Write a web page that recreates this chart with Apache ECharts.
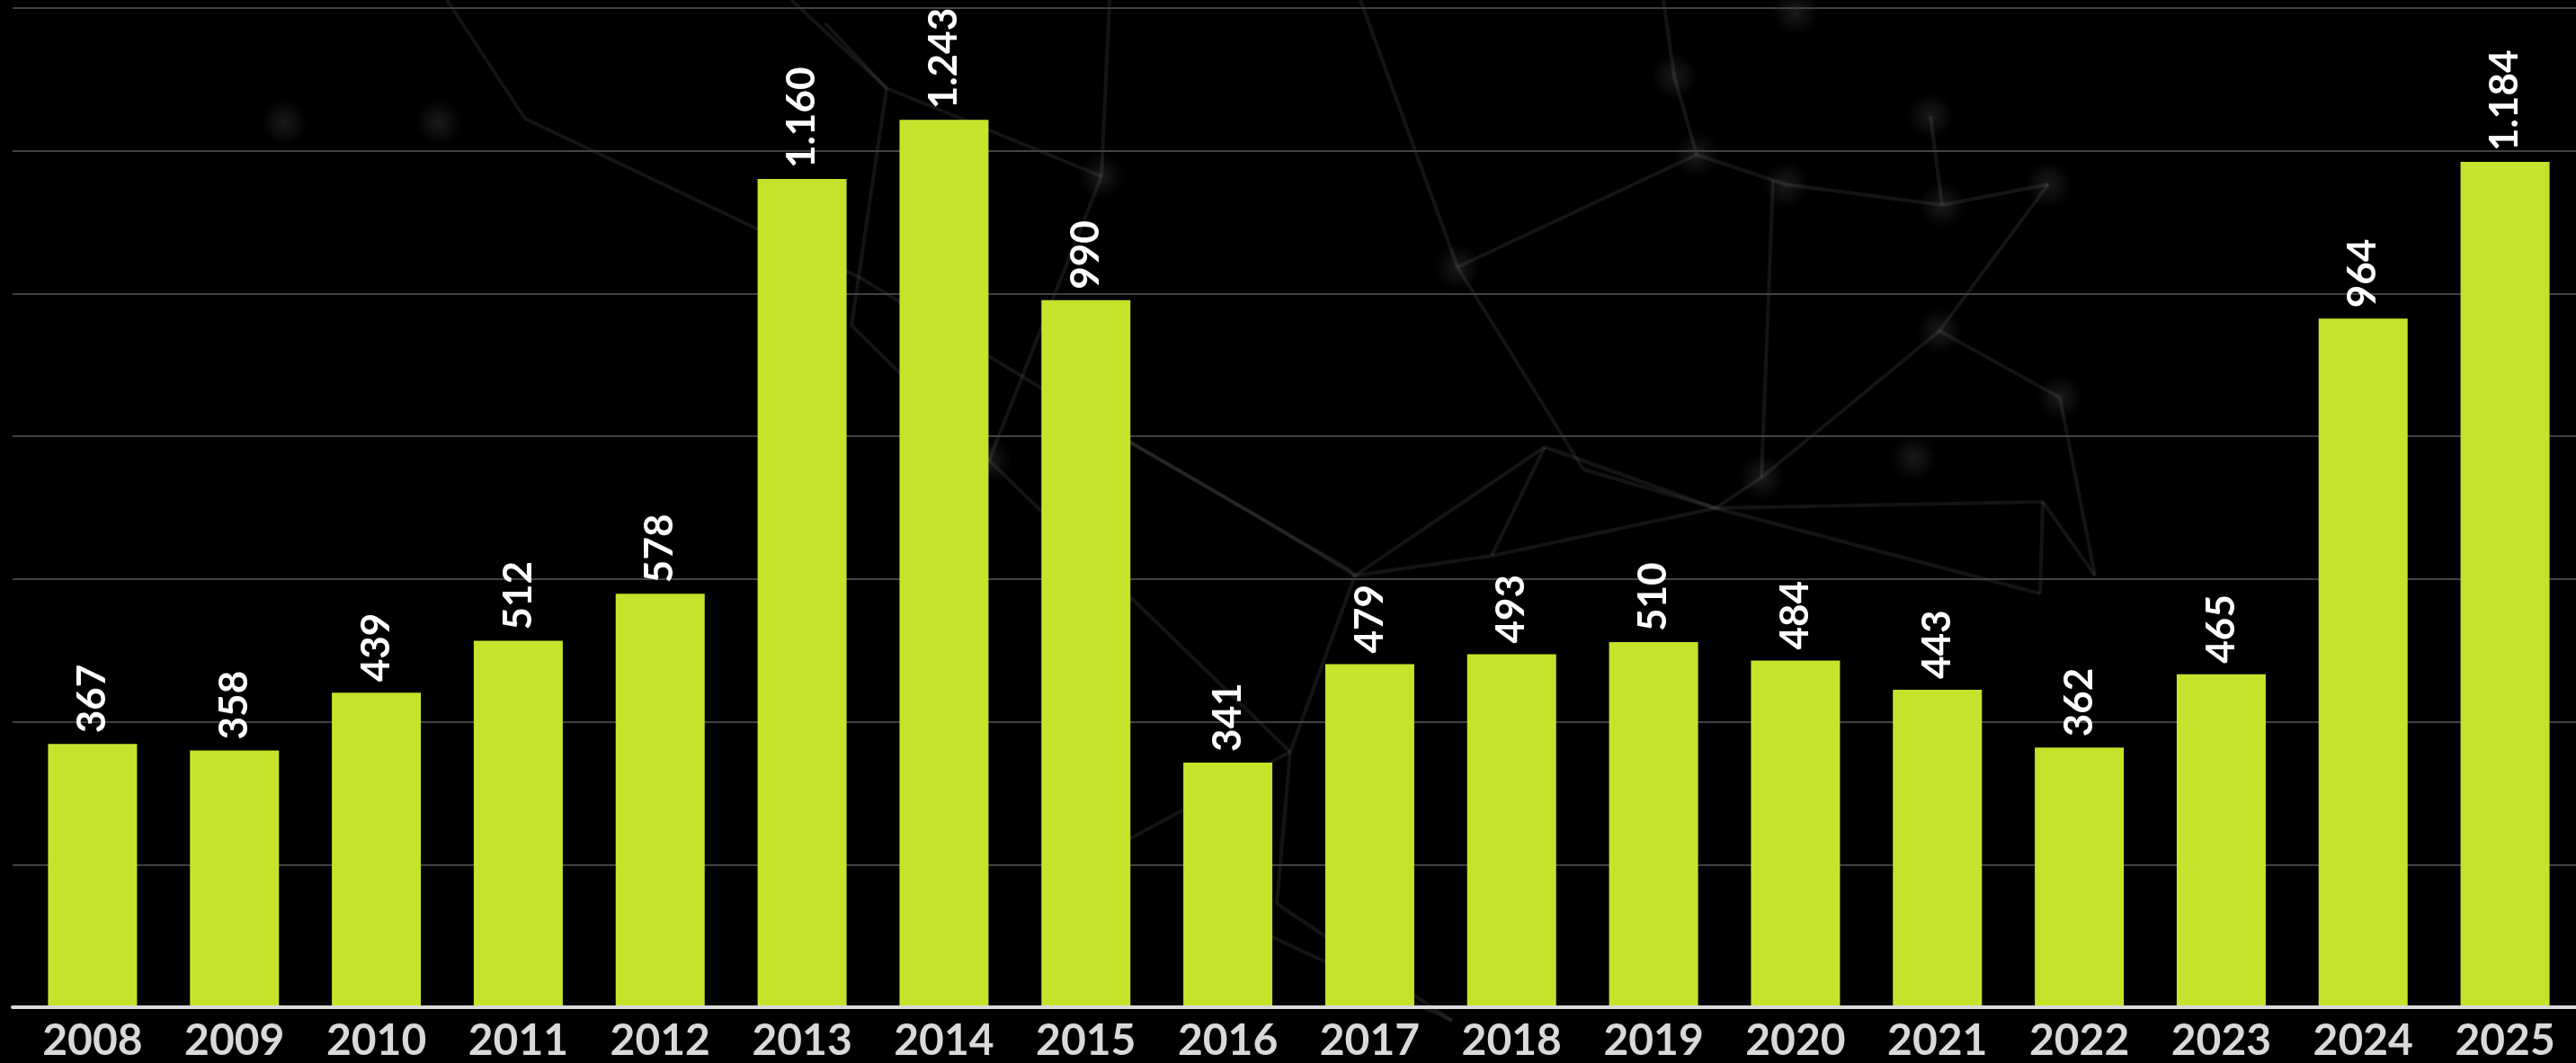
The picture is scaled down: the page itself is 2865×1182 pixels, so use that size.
<!DOCTYPE html>
<html>
<head>
<meta charset="utf-8">
<style>
  html, body { margin: 0; padding: 0; background: #000; }
  #chart { width: 2865px; height: 1182px; }
</style>
<script src="https://cdn.jsdelivr.net/npm/echarts@6/dist/echarts.min.js"></script>
</head>
<body>
<div id="chart"></div>
<script>
const years = ['2008', '2009', '2010', '2011', '2012', '2013', '2014', '2015', '2016',
  '2017', '2018', '2019', '2020', '2021', '2022', '2023', '2024', '2025'];
const counts = [367, 358, 439, 512, 578, 1160, 1243, 990, 341,
  479, 493, 510, 484, 443, 362, 465, 964, 1184];

// faint network picture behind the chart (decoration only)
const netNodes = [
  [497, 0], [584, 132], [957, 309], [1254, 490], [1500, 633],      // 0-4
  [918, 26], [986, 98], [1225, 196], [1234, 0], [1100, 512],       // 5-9
  [947, 362], [1435, 836], [1254, 934], [1513, 0], [1621, 297],    // 10-14
  [1862, 85], [1887, 172], [1986, 205], [2160, 228], [2278, 205],  // 15-19
  [2147, 129], [2157, 368], [2291, 442], [1959, 531], [1718, 497], // 20-24
  [1761, 522], [1908, 565], [2272, 558], [1659, 618], [1507, 640], // 25-29
  [1400, 575], [2269, 660], [1972, 200], [1615, 1135], [1400, 1035], // 30-34
  [2330, 640], [1850, 0], [880, 0], [1420, 1005]                   // 35-38
];
const netLinks = [
  [0, 1], [1, 2], [2, 3], [3, 4], [5, 6], [37, 6], [6, 7], [8, 7], [7, 9],
  [10, 9], [9, 11], [12, 11], [13, 14], [14, 16], [14, 25], [15, 16], [16, 17],
  [17, 18], [18, 19], [20, 18], [19, 21], [21, 23], [21, 22], [32, 23],
  [24, 28], [24, 26], [28, 26], [23, 26], [26, 27], [24, 29], [29, 30], [28, 29],
  [27, 31], [26, 31], [29, 11], [11, 38], [38, 33], [34, 33], [4, 29], [36, 15],
  [27, 35], [22, 35], [25, 26], [3, 30], [6, 10]
];
const netGlows = [[316, 136], [488, 136], [1997, 13], [2128, 509], [1862, 85],
  [2147, 129], [1887, 172], [1986, 205], [2160, 228], [2278, 205], [1621, 297],
  [2157, 368], [2291, 442], [1959, 531], [1100, 512], [1225, 196]];

const netGraphics = [];
netLinks.forEach(([a, b]) => {
  netGraphics.push({
    type: 'line', z: -10, silent: true,
    shape: { x1: netNodes[a][0], y1: netNodes[a][1], x2: netNodes[b][0], y2: netNodes[b][1] },
    style: { stroke: 'rgba(255,255,255,0.08)', lineWidth: 4, shadowBlur: 6, shadowColor: 'rgba(255,255,255,0.1)' }
  });
});
netGlows.forEach(([x, y]) => {
  netGraphics.push({
    type: 'circle', z: -10, silent: true,
    shape: { cx: x, cy: y, r: 26 },
    style: {
      fill: new echarts.graphic.RadialGradient(0.5, 0.5, 0.5, [
        { offset: 0, color: 'rgba(255,255,255,0.1)' },
        { offset: 1, color: 'rgba(255,255,255,0)' }
      ])
    }
  });
});

const fmt = (v) => String(v).replace(/\B(?=(\d{3})+(?!\d))/g, '.');

const chart = echarts.init(document.getElementById('chart'), null, { renderer: 'canvas' });

const option = {
  backgroundColor: '#000',
  animation: false,
  graphic: { elements: netGraphics },
  grid: [
    { left: 24, right: -5, top: 9, bottom: 62 },
    { left: 14, right: -5, top: 9, bottom: 62 }
  ],
  xAxis: [{
    type: 'category',
    gridIndex: 0,
    data: years,
    axisTick: { show: false },
    axisLine: { show: false },
    axisLabel: {
      color: '#d9d9d9',
      fontFamily: 'Lato',
      fontWeight: 'bold',
      fontSize: 48,
      margin: 16
    }
  }, {
    type: 'value',
    gridIndex: 1,
    min: 0,
    max: 1,
    axisTick: { show: false },
    axisLabel: { show: false },
    splitLine: { show: false },
    axisLine: { show: true, lineStyle: { color: '#d9d9d9', width: 4 } }
  }],
  yAxis: [{
    type: 'value',
    gridIndex: 0,
    min: 0,
    max: 1400,
    interval: 200,
    show: false,
    splitLine: { show: false }
  }, {
    type: 'value',
    gridIndex: 1,
    min: 0,
    max: 1400,
    interval: 200,
    axisLabel: { show: false },
    axisLine: { show: false },
    axisTick: { show: false },
    splitLine: { lineStyle: { color: '#424242', width: 2 } }
  }],
  series: [{
    type: 'bar',
    xAxisIndex: 0,
    yAxisIndex: 0,
    data: counts,
    barWidth: 99,
    z: 5,
    itemStyle: { color: '#c6e32c' },
    label: {
      show: true,
      position: 'top',
      rotate: 90,
      align: 'left',
      verticalAlign: 'middle',
      distance: 12,
      color: '#ffffff',
      fontFamily: 'Lato',
      fontWeight: 'bold',
      fontSize: 44,
      formatter: (p) => fmt(p.value)
    }
  }]
};

chart.setOption(option);
window.addEventListener('resize', () => chart.resize());
</script>
</body>
</html>
